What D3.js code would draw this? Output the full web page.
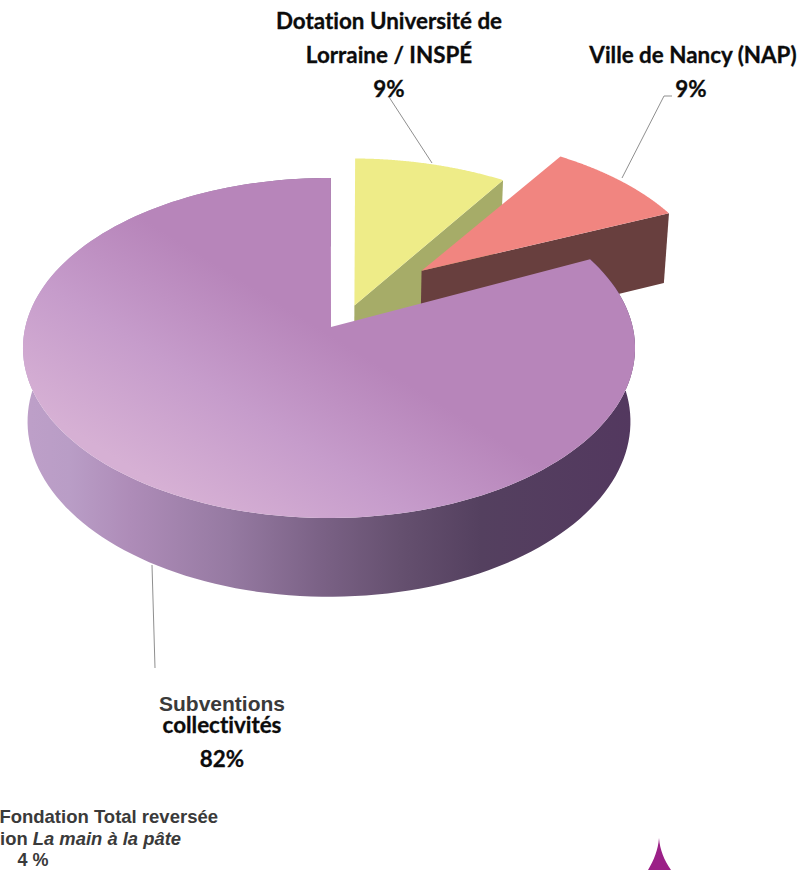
<!DOCTYPE html>
<html lang="fr">
<head>
<meta charset="utf-8">
<script src="https://cdn.jsdelivr.net/npm/d3@7"></script>
<style>
  html, body { margin: 0; padding: 0; background: #fff; overflow: hidden; }
  svg { display: block; }
  text { font-weight: 700; font-variant-ligatures: none; }
  .carlito { font-family: Lato, "Open Sans", sans-serif; fill: #0c0c0c; font-size: 22.4px; stroke: #0c0c0c; stroke-width: 0.3px; }
  .arial { font-family: "Liberation Sans", Arial, sans-serif; fill: #3a3a3a; }
</style>
</head>
<body>
<svg id="chart" width="810" height="870"></svg>
<script>
// Funding shares, clockwise from twelve o'clock
const sliceNames = ["Dotation Université de Lorraine / INSPÉ", "Ville de Nancy (NAP)", "Subventions collectivités"];
const sliceValues = [9, 9, 82];
const sliceKeys = ["universite", "ville", "subventions"];

const W = 810, H = 870;
const svg = d3.select("#chart").attr("viewBox", [0, 0, W, H]);

// Perspective of the disc: unit circle on a tilted plane
const view = { x0: 329, y0: 327, rx: 303.7, ry: 167.4, k: 0.1236 };
// The lower face of the disc sits deeper and is seen a little more from above
const base = { sx: 0.985, sy: 1.03, dy: 73 };
// Slice explosion on the plane, radial scale and a small angular trim in degrees
const explode = {
  universite: { du: 0.085, dv: -0.13, scale: 1.02, trim: 0.75, seam: 0 },
  ville: { du: 0.318, dv: -0.35, scale: 0.985, trim: 1.8, seam: 0 },
  subventions: { du: 0, dv: 0, scale: 1, trim: 0, seam: 0.38 }
};

function project(u, v) {
  const w = 1 - view.k * v;
  return [view.rx * u / w, view.ry * v / w];
}
function topPoint(u, v) {
  const [x, y] = project(u, v);
  return [view.x0 + x, view.y0 + y];
}
function basePoint(u, v) {
  const [x, y] = project(u, v);
  return [view.x0 + x * base.sx, view.y0 + base.dy + y * base.sy];
}

const angle = d3.scaleLinear().domain([0, 1]);
const rad = Math.PI / 180;
const slices = d3.pie().sort(null)(sliceValues).map((d, i) => {
  const e = explode[sliceKeys[i]];
  return {
    key: sliceKeys[i],
    name: sliceNames[i],
    a0: d.startAngle + e.trim * rad,
    a1: d.endAngle + (e.trim + e.seam) * rad,
    e
  };
});

function rimPoints(s, fn) {
  const a = angle.copy().range([s.a0, s.a1]);
  return d3.range(0, 1.0001, 1 / 160).map(t => {
    const th = a(t);
    return fn(s.e.scale * Math.sin(th) + s.e.du, -s.e.scale * Math.cos(th) + s.e.dv);
  });
}
// The seam nudges the centre point so the straight cut stays vertical
const apex = (s, fn) => fn(s.e.du + Math.sin(s.e.seam * rad), s.e.dv);
const line = d3.line();
const closed = d3.line().curve(d3.curveLinearClosed);

const defs = svg.append("defs");
function gradient(id, stops, x1, y1, x2, y2) {
  const g = defs.append("linearGradient").attr("id", id)
    .attr("gradientUnits", "userSpaceOnUse")
    .attr("x1", x1).attr("y1", y1).attr("x2", x2).attr("y2", y2);
  stops.forEach(([o, c]) => g.append("stop").attr("offset", o).attr("stop-color", c));
}
gradient("subTop", [[0, "#d6b0d4"], [0.5, "#c69ccb"], [1, "#b785ba"]], 215, 520, 330, 335);
gradient("subWall", [[0, "#bd9fc8"], [0.066, "#b99dc6"], [0.166, "#ae8cb8"], [0.33, "#967aa2"],
  [0.48, "#7b6286"], [0.615, "#65506f"], [0.75, "#54405f"], [1, "#53385f"]], 30, 0, 632, 0);

const layer = svg.append("g");

const paint = {
  universite: { top: "#eeec88", wall: "#a6ac68" },
  ville: { top: "#f18580", wall: "#683f3e" },
  subventions: { top: "url(#subTop)", wall: "url(#subWall)" }
};

// Back slices first, then the large slice which overlaps them
slices.forEach(s => {
  const topRim = rimPoints(s, topPoint);
  const baseRim = rimPoints(s, basePoint);
  const g = layer.append("g").attr("class", s.key);

  if (s.key !== "subventions") {
    // Visible cut face running along the slice's clockwise end
    const cut = [apex(s, topPoint), topRim[topRim.length - 1], baseRim[baseRim.length - 1], apex(s, basePoint)];
    g.append("path").attr("d", closed(cut)).attr("fill", paint[s.key].wall);
  } else {
    // Curved outer wall shaded left to right
    const d = d3.range(0, topRim.length - 1).map(i =>
      closed([topRim[i], topRim[i + 1], baseRim[i + 1], baseRim[i]])).join("");
    g.append("path").attr("d", d).attr("fill", paint[s.key].wall);
  }
  g.append("path")
    .attr("d", closed([apex(s, topPoint), ...topRim]))
    .attr("fill", paint[s.key].top);
});

// Leader lines
const leaders = [
  [[432, 163], [389, 97]],
  [[622, 178], [664, 96], [672, 96]],
  [[152, 565], [155, 668]]
];
svg.append("g").selectAll("path").data(leaders).join("path")
  .attr("d", d => line(d))
  .attr("fill", "none").attr("stroke", "#8f8f8f").attr("stroke-width", 1);

// Labels
const carlitoLabels = [
  ["Dotation Université de", 389, 29],
  ["Lorraine / INSPÉ", 389, 63],
  ["9%", 389, 97],
  ["Ville de Nancy (NAP)", 693, 63],
  ["9%", 691, 97],
  ["collectivités", 222, 733],
  ["82%", 222, 767]
];
svg.append("g").selectAll("text").data(carlitoLabels).join("text")
  .attr("class", "carlito")
  .attr("text-anchor", "middle")
  .attr("x", d => d[1]).attr("y", d => d[2])
  .text(d => d[0]);

svg.append("text").attr("class", "arial").attr("text-anchor", "middle")
  .attr("x", 222).attr("y", 711).attr("font-size", 21).text("Subventions");

svg.append("text").attr("class", "arial").attr("text-anchor", "end")
  .attr("x", 218).attr("y", 823).attr("font-size", 18.5).text("Fondation Total reversée");
const l2 = svg.append("text").attr("class", "arial").attr("text-anchor", "end")
  .attr("x", 181).attr("y", 845).attr("font-size", 18.4);
l2.append("tspan").text("ion ");
l2.append("tspan").attr("font-style", "italic").text("La main à la pâte");
svg.append("text").attr("class", "arial").attr("text-anchor", "middle")
  .attr("x", 33).attr("y", 866).attr("font-size", 18).text("4 %");

// Corner ornament cut by the page edge
svg.append("path")
  .attr("d", "M659,838 C660,850 664,860 671,870 L648,870 C654,860 658,850 659,838 Z")
  .attr("fill", "#9b2087");
</script>
</body>
</html>
